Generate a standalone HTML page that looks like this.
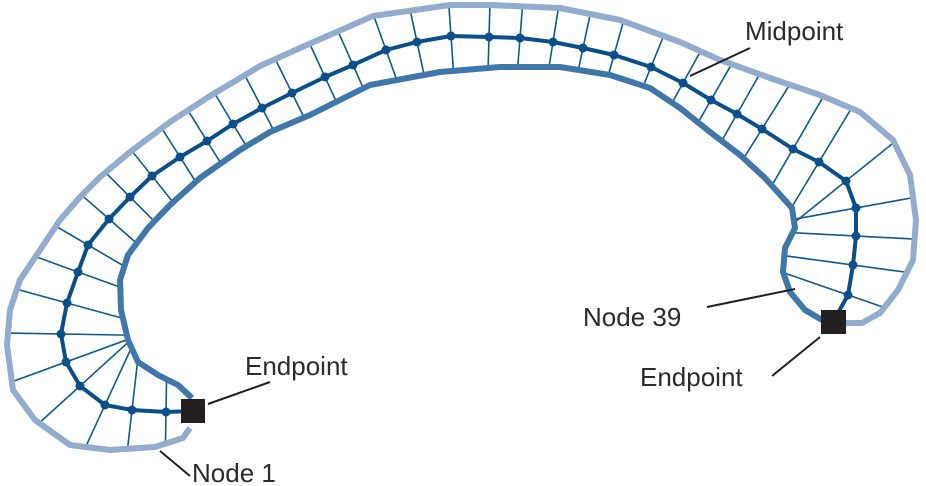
<!DOCTYPE html>
<html><head><meta charset="utf-8"><style>
html,body{margin:0;padding:0;background:#fff;width:926px;height:486px;overflow:hidden}
text{font-family:"Liberation Sans",sans-serif;font-size:26px;fill:#2b2b2b}
</style></head><body>
<svg id="s" width="926" height="486" viewBox="0 0 926 486" xmlns="http://www.w3.org/2000/svg">
<g id="spokes" stroke="#0e5a8f" stroke-width="1.6"></g>
<polyline id="outer" fill="none" stroke="#93abcd" stroke-width="6" stroke-linejoin="round" points="190,428 183,438 155,447 110,450 70,445 35,420 13,390 7,345 10,310 20,280 40,250 60,220 80,197 100,177 130,152 170,122 210,96 260,66 300,48 373,16 450,5 490,5 560,8 620,20 680,42 720,60 770,78 820,95 860,112 893,140 910,175 916,220 913,260 898,290 880,313 862,323 845,323"/>
<polyline id="inner" fill="none" stroke="#3f77aa" stroke-width="6" stroke-linejoin="round" points="192,398 178,385 158,375 138,362 128,340 121,310 120,280 128,255 148,228 170,205 200,178 240,150 270,132 310,115 370,85 440,72 500,67 560,67 610,75 650,88 680,108 710,132 740,155 765,178 792,208 795,228 785,248 783,272 790,292 805,310 822,320"/>
<polyline id="mid" fill="none" stroke="#0b4f8a" stroke-width="4" stroke-linejoin="round" points=""/>
<g id="dots" fill="#0b4f8a"></g>
<rect x="181" y="399" width="24" height="24" fill="#231f20"/>
<rect x="821" y="310" width="25" height="24" fill="#231f20"/>
<g stroke="#231f20" stroke-width="2" fill="none">
<line x1="208" y1="404" x2="270" y2="382"/>
<line x1="160" y1="451" x2="190" y2="476"/>
<line x1="690" y1="76" x2="750" y2="48"/>
<line x1="707" y1="307" x2="795" y2="289"/>
<line x1="772" y1="376" x2="820" y2="337"/>
</g>
<text x="745" y="40">Midpoint</text>
<text x="245" y="375">Endpoint</text>
<text x="192" y="482">Node 1</text>
<text x="583" y="326">Node 39</text>
<text x="640" y="386">Endpoint</text>
</svg>
<script>
var nodes=[[193,411],[166,412],[132,410],[105,405],[80,386],[66,362],[61,334],[67,303],[78,272],[88,245],[109,219],[130,197],[152,176],[180,157],[207,141],[233,124],[262,108],[292,93],[325,77],[353,65],[386,50],[417,42],[451,36],[489,37],[520,38],[553,42],[583,48],[614,55],[651,67],[683,83],[711,100],[737,114],[762,129],[793,149],[819,162],[846,181],[856,208],[856,236],[853,265],[848,295],[834,320]];
function pts(id){return document.getElementById(id).getAttribute('points').trim().split(/\s+/).map(function(p){return p.split(',').map(Number)});}
var O=pts('outer'),I=pts('inner');
document.getElementById('mid').setAttribute('points',nodes.map(function(p){return p.join(',')}).join(' '));
function hit(P,d,poly){var bt=80,best=null;for(var i=0;i<poly.length-1;i++){var a=poly[i],b=poly[i+1];var ex=b[0]-a[0],ey=b[1]-a[1];var den=d[0]*ey-d[1]*ex;if(Math.abs(den)<1e-9)continue;var wx=a[0]-P[0],wy=a[1]-P[1];var t=(wx*ey-wy*ex)/den;var u=(wx*d[1]-wy*d[0])/den;if(u>=0&&u<=1&&t>0&&t<bt){bt=t;best=[P[0]+d[0]*t,P[1]+d[1]*t];}}return best;}
var sp=document.getElementById('spokes'),dots=document.getElementById('dots'),ns='http://www.w3.org/2000/svg';
function spoke(P,tx,ty){var l=Math.hypot(tx,ty);var nx=-ty/l,ny=tx/l;
var a1=hit(P,[nx,ny],O),b1=hit(P,[-nx,-ny],I),a2=hit(P,[-nx,-ny],O),b2=hit(P,[nx,ny],I);
var a,b;if(a1&&b1){a=a1;b=b1;}else if(a2&&b2){a=a2;b=b2;}else return;
var L=document.createElementNS(ns,'line');L.setAttribute('x1',a[0]);L.setAttribute('y1',a[1]);L.setAttribute('x2',b[0]);L.setAttribute('y2',b[1]);sp.appendChild(L);}
for(var i=1;i<nodes.length-1;i++){var p=nodes[i-1],n=nodes[i+1],c=nodes[i];spoke(c,n[0]-p[0],n[1]-p[1]);
var C=document.createElementNS(ns,'circle');C.setAttribute('cx',c[0]);C.setAttribute('cy',c[1]);C.setAttribute('r',4.5);dots.appendChild(C);}
</script>
</body></html>
